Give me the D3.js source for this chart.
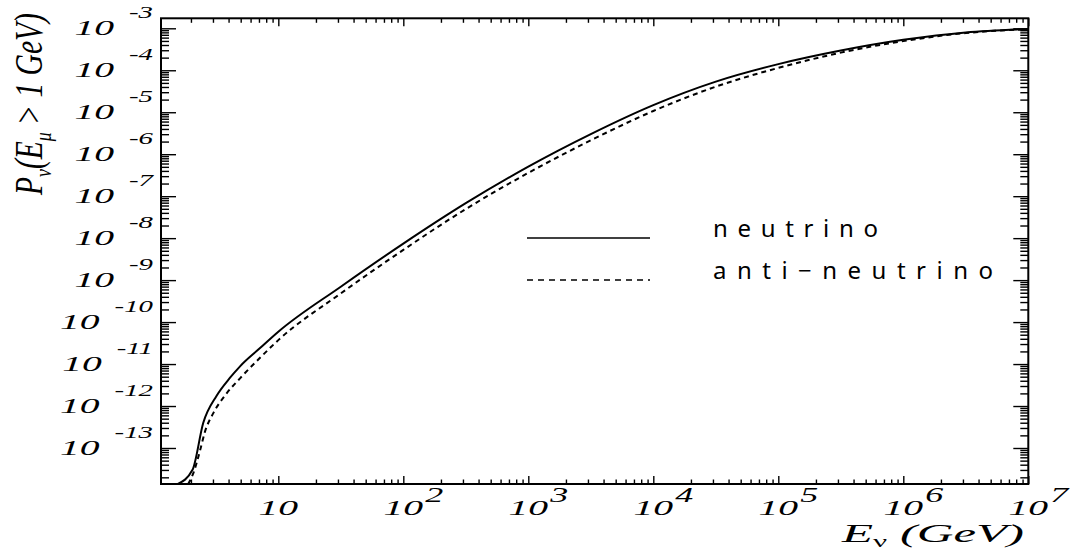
<!DOCTYPE html>
<html><head><meta charset="utf-8">
<script src="https://cdn.jsdelivr.net/npm/d3@7"></script>
<style>body{margin:0;background:#fff}svg{display:block}</style>
</head><body><svg id="c" width="1070" height="551"></svg>
<script>
// ---- data ----
const energyNeutrino = [1.56, 2.06, 2.51, 3.21, 4.11, 4.94, 7.14, 10, 31.6, 100, 316, 1000, 3162, 1e4, 31620, 1e5, 316200, 1e6, 3162000, 1e7];
const probNeutrino   = [1.38e-14, 3.02e-14, 3.98e-13, 1.76e-12, 4.72e-12, 8.83e-12, 2.40e-11, 5.89e-11, 6.97e-10, 7.41e-9, 6.81e-8, 5.07e-7, 3.02e-6, 1.48e-5, 5.37e-5, 1.40e-4, 2.95e-4, 5.31e-4, 7.98e-4, 9.62e-4];
const energyAnti = [1.90, 2.09, 2.37, 2.59, 3.02, 3.86, 4.94, 7.14, 10, 31.6, 100, 316, 1000, 3162, 1e4, 31620, 1e5, 316200, 1e6, 3162000, 1e7];
const probAnti   = [1.38e-14, 2.51e-14, 8.91e-14, 2.45e-13, 6.76e-13, 2.00e-12, 4.57e-12, 1.41e-11, 3.72e-11, 4.82e-10, 5.25e-9, 4.93e-8, 3.59e-7, 2.14e-6, 1.07e-5, 4.07e-5, 1.14e-4, 2.63e-4, 4.95e-4, 7.71e-4, 9.51e-4];
const xTickPowers = [1, 2, 3, 4, 5, 6, 7];
const yTickPowers = [-3, -4, -5, -6, -7, -8, -9, -10, -11, -12, -13];
const legendLabels = ["neutrino", "anti\u2212neutrino"];

// ---- layout ----
const L = 161, R = 1028.3, T = 18.3, B = 484;
const svg = d3.select("#c");
const x = d3.scaleLog().domain([1.152, 1e7]).range([L, R]);
const y = d3.scaleLog().domain([1.387e-14, 1.731e-3]).range([B, T]);

// minor ticks
const xMinor = [], yMinor = [];
for (let p = 0; p < 7; p++) for (let k = 2; k <= 9; k++) { const v = k * Math.pow(10, p); if (v >= x.domain()[0] && v <= x.domain()[1]) xMinor.push(v); }
for (let p = -14; p < -2; p++) for (let k = 2; k <= 9; k++) { const v = k * Math.pow(10, p); if (v >= y.domain()[0] && v <= y.domain()[1]) yMinor.push(v); }
const xMajor = xTickPowers.map(p => Math.pow(10, p));
const yMajor = yTickPowers.map(p => Math.pow(10, p));

function axis(gen, vals, size, tr) {
  svg.append("g").attr("transform", tr)
    .call(gen.tickValues(vals).tickSize(size).tickSizeOuter(0).tickFormat(""))
    .call(g => g.select(".domain").remove())
    .selectAll("line").attr("stroke", "#000").attr("stroke-width", 1.4);
}
axis(d3.axisRight(y), yMajor, 15, `translate(${L},0)`);
axis(d3.axisRight(y), yMinor, 8, `translate(${L},0)`);
axis(d3.axisLeft(y), yMajor, 15, `translate(${R},0)`);
axis(d3.axisLeft(y), yMinor, 8, `translate(${R},0)`);
axis(d3.axisTop(x), xMajor, 8, `translate(0,${B})`);
axis(d3.axisTop(x), xMinor, 4.5, `translate(0,${B})`);
axis(d3.axisBottom(x), xMajor, 8, `translate(0,${T})`);
axis(d3.axisBottom(x), xMinor, 4.5, `translate(0,${T})`);

// frame
svg.append("rect").attr("x", L).attr("y", T).attr("width", R - L).attr("height", B - T)
  .attr("fill", "none").attr("stroke", "#000").attr("stroke-width", 2);

// curves
svg.append("clipPath").attr("id", "clip").append("rect")
  .attr("x", L).attr("y", T).attr("width", R - L).attr("height", B - T);
const line = d3.line().x(d => x(d[0])).y(d => y(d[1])).curve(d3.curveMonotoneX);
svg.append("path").attr("clip-path", "url(#clip)")
  .attr("d", line(d3.zip(energyNeutrino, probNeutrino)))
  .attr("fill", "none").attr("stroke", "#000").attr("stroke-width", 2);
svg.append("path").attr("clip-path", "url(#clip)")
  .attr("d", line(d3.zip(energyAnti, probAnti)))
  .attr("fill", "none").attr("stroke", "#000").attr("stroke-width", 2).attr("stroke-dasharray", "5,4");

// tick labels
const lab = svg.append("g").attr("font-family", "'Liberation Serif','Times New Roman',serif")
  .attr("font-style", "italic").attr("fill", "#000");
yTickPowers.forEach(p => {
  const ty = y(Math.pow(10, p));
  const ex = lab.append("text").attr("transform", `translate(153,${ty - 10}) scale(1.8,1)`)
    .attr("text-anchor", "end").attr("font-size", 16).text("-" + Math.abs(p));
  const w = ex.node().getComputedTextLength() * 1.8;
  lab.append("text").attr("transform", `translate(${153 - w - 15},${ty + 7}) scale(1.8,1)`)
    .attr("text-anchor", "end").attr("font-size", 22).text("10");
});
xTickPowers.forEach(p => {
  const tx = x(Math.pow(10, p));
  lab.append("text").attr("transform", `translate(${tx},515) scale(1.8,1)`)
    .attr("text-anchor", "middle").attr("font-size", 22).text("10");
  if (p > 1) lab.append("text").attr("transform", `translate(${tx + 22},502) scale(1.8,1)`)
    .attr("font-size", 20).text(p);
});

// axis titles (horizontal squeeze/stretch via transform)
const yt = svg.append("text")
  .attr("font-family", "'Liberation Serif',serif").attr("font-style", "italic").attr("font-size", 40);
yt.append("tspan").text("P");
yt.append("tspan").attr("font-size", 24).attr("dy", 9).text("ν");
yt.append("tspan").attr("dy", -9).text("(E");
yt.append("tspan").attr("font-size", 24).attr("dy", 9).text("μ");
yt.append("tspan").attr("dy", -9).text(" > 1 GeV)");
const ytLen = yt.node().getComputedTextLength();
yt.attr("transform", `translate(42,195) rotate(-90) scale(${182 / ytLen},1)`);

const xt = svg.append("text")
  .attr("font-family", "'Liberation Serif',serif").attr("font-style", "italic").attr("font-size", 26);
xt.append("tspan").text("E");
xt.append("tspan").attr("font-size", 16).attr("dy", 5).attr("font-style", "normal").text("ν");
xt.append("tspan").attr("dy", -5).text(" (GeV)");
const xtLen = xt.node().getComputedTextLength();
xt.attr("transform", `translate(842,542) scale(${182 / xtLen},1)`);

// legend
const legY = [238, 280];
const legDash = [null, "6,5"];
const legLen = [165, 280];
legendLabels.forEach((t, i) => {
  svg.append("line").attr("x1", 527).attr("x2", 650).attr("y1", legY[i]).attr("y2", legY[i])
    .attr("stroke", "#000").attr("stroke-width", 1.6).attr("stroke-dasharray", legDash[i]);
  svg.append("text").attr("x", 713).attr("y", legY[i] - 1)
    .attr("font-family", "'Noto Sans','DejaVu Sans',sans-serif")
    .attr("font-size", 24).attr("textLength", legLen[i]).attr("lengthAdjust", "spacing").text(t);
});
</script></body></html>
